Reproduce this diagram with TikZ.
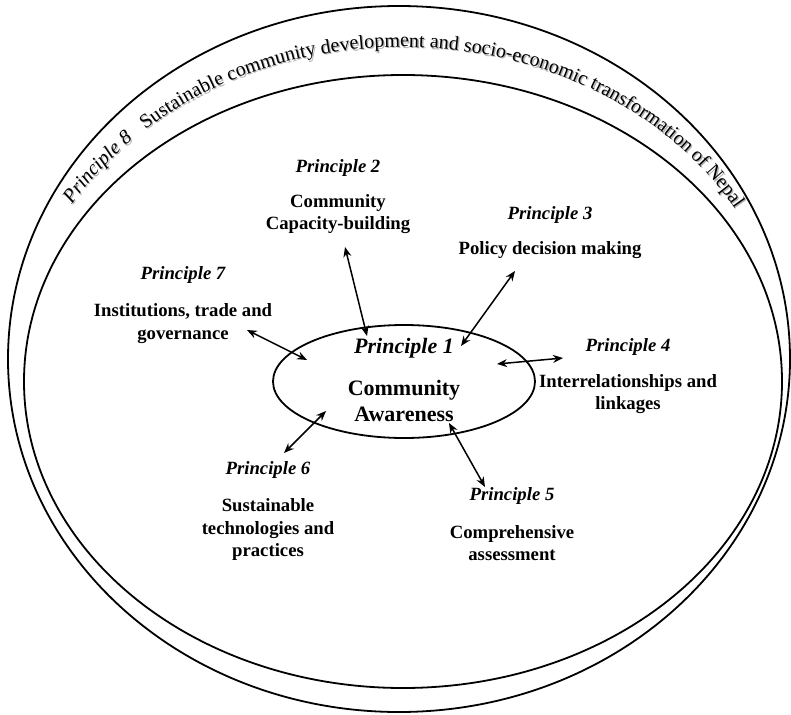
\documentclass[tikz,border=0pt]{standalone}
\usepackage{fontspec}
\setmainfont{Liberation Serif}
\usetikzlibrary{arrows.meta,decorations.text,shapes.geometric,calc}
\begin{document}
\begin{tikzpicture}[x=1pt,y=-1pt,
  ring/.style={draw=black,line width=1.8pt},
  plab/.style={font=\fontsize{18.7}{21}\selectfont\bfseries\itshape, inner sep=0pt},
  desc/.style={font=\fontsize{18.7}{22.5}\selectfont\bfseries, align=center, inner sep=0pt},
  cplab/.style={font=\fontsize{22}{25}\selectfont\bfseries\itshape, inner sep=0pt},
  cdesc/.style={font=\fontsize{22}{26}\selectfont\bfseries, align=center, inner sep=0pt},
  dbl/.style={{Stealth[length=10pt,width=8pt]}-{Stealth[length=10pt,width=8pt]}, line width=1.5pt}]
\useasboundingbox (0,0) rectangle (791,714);
% rings
\draw[ring] (399,359) ellipse [x radius=391pt, y radius=353pt];
\draw[ring] (403,381.5) ellipse [x radius=379pt, y radius=306.5pt];
% curved text (shadow then text)
\coordinate (tc) at (402,372);
\coordinate (ts) at (403.3,373.3);
\path[decorate, decoration={text along path, text color=black!30,
   text={|\fontsize{20}{22}\selectfont\itshape|Principle 8}}]
   (ts) ++(149:385pt and 325pt) arc[start angle=149, end angle=100, x radius=385pt, y radius=325pt];
\path[decorate, decoration={text along path, text color=black!30,
   text={|\fontsize{20}{22}\selectfont|Sustainable community development and socio-economic transformation of Nepal}}]
   (ts) ++(131.8:385pt and 325pt) arc[start angle=131.8, end angle=12, x radius=385pt, y radius=325pt];
\path[decorate, decoration={text along path,
   text={|\fontsize{20}{22}\selectfont\itshape|Principle 8}}]
   (tc) ++(149:385pt and 325pt) arc[start angle=149, end angle=100, x radius=385pt, y radius=325pt];
\path[decorate, decoration={text along path,
   text={|\fontsize{20}{22}\selectfont|Sustainable community development and socio-economic transformation of Nepal}}]
   (tc) ++(131.8:385pt and 325pt) arc[start angle=131.8, end angle=12, x radius=385pt, y radius=325pt];
% central ellipse
\node[ellipse, draw, line width=1.8pt, minimum width=262pt, minimum height=113pt, inner sep=0pt] (core) at (404,381.5) {};
\node[cplab] (p1) at (404,348) {Principle 1};
\node[cdesc] (c1) at (404,401) {Community\\Awareness};
% principles
\node[plab] (p2) at (338,168) {Principle 2};
\node[desc] (d2) at (338,214) {Community\\Capacity-building};
\node[plab] (p3) at (550,215) {Principle 3};
\node[desc] (d3) at (550,250) {Policy decision making};
\node[plab] (p7) at (183,275) {Principle 7};
\node[desc] (d7) at (183,323.5) {Institutions, trade and\\governance};
\node[plab] (p4) at (628,347) {Principle 4};
\node[desc] (d4) at (628,394) {Interrelationships and\\linkages};
\node[plab] (p6) at (268,470) {Principle 6};
\node[desc] (d6) at (268,529.5) {Sustainable\\technologies and\\practices};
\node[plab] (p5) at (512,496) {Principle 5};
\node[desc] (d5) at (512,543) {Comprehensive\\assessment};
% arrow ends
\coordinate (a2s) at (345,247); \coordinate (a2e) at (367,336);
\coordinate (a3s) at (515,271); \coordinate (a3e) at (461,346);
\coordinate (a4s) at (563,358); \coordinate (a4e) at (497,364);
\coordinate (a7s) at (247,330); \coordinate (a7e) at (307,360);
\coordinate (a6s) at (284,453); \coordinate (a6e) at (326,411);
\coordinate (a5s) at (485,487); \coordinate (a5e) at (449,423);
\draw[dbl] (a2s) -- (a2e);
\draw[dbl] (a3s) -- (a3e);
\draw[dbl] (a4s) -- (a4e);
\draw[dbl] (a7s) -- (a7e);
\draw[dbl] (a6s) -- (a6e);
\draw[dbl] (a5s) -- (a5e);
\end{tikzpicture}
\end{document}
